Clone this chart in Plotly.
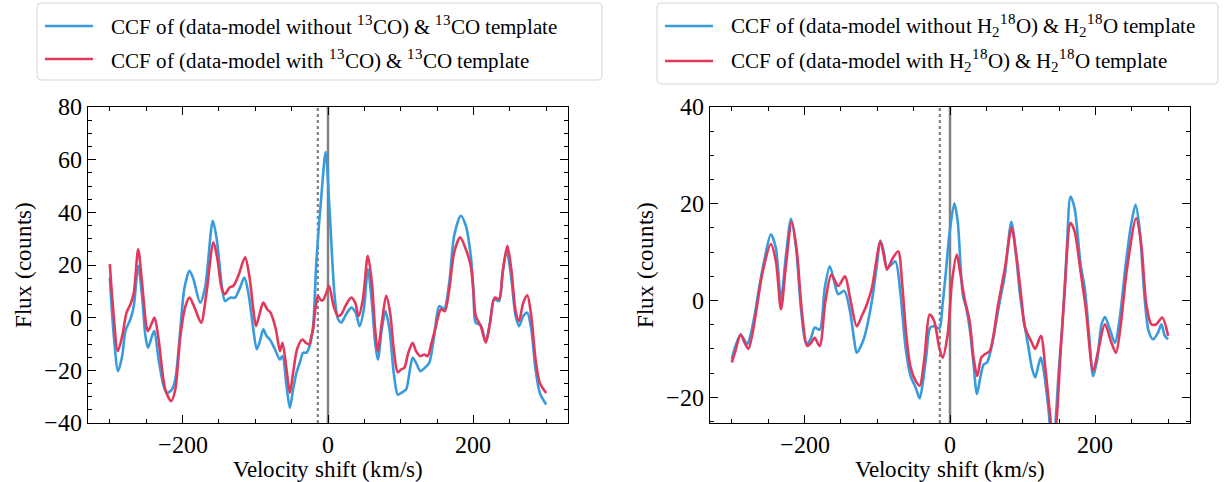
import plotly.graph_objects as go

# ---------------- Left panel: 13CO ----------------
v_13co_without = [-300, -294.5, -288.6, -283, -278.5, -271.7, -267, -261, -255.7, -251, -247.5, -242, -238.8,
                  -232.9, -226, -221.5, -214.6, -210, -203, -197.7, -190.4, -185, -175.8, -169, -158.4, -153,
                  -146, -141.6, -134.7, -127.9, -121, -115, -109.6, -102.7, -98, -93.6, -89, -84.5, -79.9, -73,
                  -66, -62.6, -57, -52.5, -48, -43.4, -38.8, -34.2, -29.7, -25, -20.5, -16, -9.1, -3.2, 2.3,
                  9.1, 13.7, 18.3, 25, 32, 38, 43.4, 49.3, 54.8, 60.3, 64.8, 68.5, 74, 79, 84.5, 90.4, 95.9,
                  100.5, 107.3, 111.9, 116.4, 121, 126.9, 133.3, 139.3, 146, 153, 159.8, 166.7, 173.5, 182.6,
                  189.5, 196.3, 200, 203.2, 210, 216.9, 222.8, 228.3, 235.2, 239.7, 245.7, 251.1, 258, 262.6,
                  268.5, 274, 279.5, 285.4, 291.3, 300]
f_13co_without = [15.2, -7, -20.3, -14.6, -5, -0.6, 4.4, 19.7, 8.3, -7, -11.4, -7, -5.1,
                  -15.9, -26, -28.6, -27.3, -23.5, -4.4, 10.8, 17.8, 14.6, 5.7, 11.4, 36.8, 29.8,
                  12, 6.3, 7.6, 7.6, 11.4, 15.2, 9.5, -4.4, -12, -8.9, -4.4, -7, -8.3, -12,
                  -15.9, -14.6, -26, -34.3, -27.3, -21, -17.1, -13.3, -13.3, -10.5, -3.2, 21, 46.3, 62.9, 40,
                  8.3, -0.5, -1.8, 1.3, 3.8, 1.9, -3.2, 3.2, 18.4, 5.7, -9.5, -15.9, -4.4, 2.5, -4.4, -21, -29.2,
                  -28.6, -27.3, -21, -15.2, -17.1, -20.3, -19, -17.1, -7, 4.4, 3.4, 13.3, 31.1, 38.7,
                  34.9, 23.5, 10.8, -1.9, -2.9, -8.9, -1.9, 7, 6.3, 15.9, 25.4, 17.1, 0.6, -3.2,
                  0.6, 1.9, -4.4, -19.7, -28.6, -33]

v_13co_with = [-300, -295.4, -289, -283, -277, -271.7, -267, -261, -255.7, -249.8, -247.5, -242, -238.4,
               -232.9, -223.7, -215.5, -210, -203, -196, -190.4, -182.6, -174.4, -167.6, -157.5, -152, -146,
               -141.6, -135.6, -130, -123.3, -114, -108.2, -102.7, -99, -93.6, -89, -83.6, -79, -71.7, -66,
               -62.6, -57, -52.5, -48, -42.5, -35.3, -30.6, -26, -22.8, -20.5, -17.4, -13.7, -10, -6.8, -2.3,
               1.5, 7.8, 13.7, 18.3, 25, 32, 37.4, 42, 48, 54.8, 60.3, 64.8, 68.5, 74, 80, 85.4, 90.4, 95.9,
               100.5, 105, 110.5, 116.4, 121, 126.9, 132.4, 137, 142.5, 148.4, 155.3, 160.7, 166.7, 173.5,
               181.7, 189.5, 196.3, 200, 203.2, 210, 216.9, 222.8, 229.2, 235.2, 240.6, 246.6, 252, 258,
               262.6, 268.5, 274, 279.5, 285.4, 291.3, 300]
f_13co_with = [20.3, 3.2, -12.7, -7, 1.9, 5, 9.5, 26, 13.3, -3.2, -5.1, -1.9, 0,
               -8.3, -27.3, -31.7, -27.3, -7, 4.4, 7.6, 3.2, -1.9, 8.3, 28.6, 22.2, 10.8,
               8.9, 11.4, 12.1, 15.9, 22.9, 15.9, 3.2, -3.2, 1.9, 5.7, 3.2, 1.9, -4.4, -12.7,
               -9.5, -19.7, -28.6, -21, -12, -8.3, -9.5, -10.2, -7, -4.4, 3.2, 8.3, 6.7, 6.7, 9.5,
               12, 4.4, 0.6, 1.3, 5, 7.6, 5.7, 0.6, 7, 23.5, 13.3, -4.4, -12.7, -1.9, 8.3, 1.9, -12, -20.7,
               -19.7, -19, -13.3, -9.5, -12.7, -14.6, -14, -14.6, -9.5, -3.2, 3.2, 2.5, 10.8, 24.8,
               30.5, 26, 19.7, 9.5, 0.6, -3.2, -9.5, -1.9, 7.6, 7, 18.4, 27.3, 18.4, 2.5,
               -1.3, 5.7, 8.5, 0.6, -15.9, -24.8, -28.6]

# ---------------- Right panel: H2 18O ----------------
v_h218o_without = [-300, -295, -288, -283.3, -278.7, -274, -268.5, -262.5, -255.6, -246.3, -239.4, -232.4,
                   -225.5, -218.5, -211.6, -204.6, -197.7, -191.7, -186.1, -179.2, -172.2, -165.3, -159.3,
                   -153.7, -145.4, -137.5, -131.5, -128.2, -121.3, -116.7, -107.4, -100.5, -95.8, -91.2,
                   -86.6, -81, -75, -68, -61.1, -54.2, -47.2, -41.7, -37, -32.4, -27.3, -21.8, -14.7, -10.2,
                   -5.6, -0.9, 6, 10.6, 17.6, 22.2, 26.9, 32.4, 37, 41.7, 46.3, 50.9, 57, 68.5, 75.5, 84.3,
                   90.7, 96.3, 100.9, 107.9, 112.5, 117.1, 121.8, 125, 129.6, 135.6, 140.3, 144, 149.5,
                   154.2, 160.2, 165.7, 171.3, 179.6, 185.2, 191.2, 196.8, 202.8, 208.3, 213, 219.9, 226.9,
                   232.9, 242.1, 249.1, 255.1, 260.6, 267.6, 273.1, 279.2, 286.1, 290.7, 295.4, 300]
f_h218o_without = [-12.1, -9.4, -7, -8, -9, -7, -2.9, 2.6, 8.1, 13.7, 10.8, 0.2,
                   9.5, 16.9, 10.8, -2.2, -9, -8, -5.6, -6, 2.6, 7.1, 4,
                   1.3, 2, -2.2, -8.4, -10.8, -9, -7, -0.1, 7.4, 12.4, 10.2,
                   6.7, 7.4, 8.1, 1.3, -9.7, -15.6, -18, -20.2, -16.6, -11.1, -5.6, -5.3, -5.8, -0.8,
                   6, 13.6, 20.1, 16.3, 1.2, -1.5, -5.6, -13.2, -19.3, -15.9, -13.2, -12.8, -9.7, -0.1, 5.4, 16.3,
                   9.5, 1.2, -3.6, -9.7, -13.8, -15.9, -13.2, -11.8, -15.2, -22.8, -30, -27, -14.5,
                   -5.6, 9.5, 21.5, 19.1, 7.4, 2.6, -7, -15.6, -11.8, -5, -3.4, -6, -8.7,
                   -4.2, 8.1, 15.7, 19.8, 15, 0.5, -6.3, -8, -6.6, -4.9, -7.3, -8]

v_h218o_with = [-300, -295, -288, -282.4, -277.3, -271.8, -265.7, -257.9, -246.3, -239.4, -232.4, -225.5,
                -217.6, -210.6, -203.7, -196.3, -190.7, -186.1, -179.2, -171.3, -163, -153.7, -144.4, -137.5,
                -128.2, -121.3, -114.4, -107.4, -95.8, -91.2, -86.6, -79.6, -71.3, -65.7, -60.2, -54.2,
                -47.2, -41.7, -35.6, -27.8, -21.8, -14.8, -10.2, -3.2, 2.8, 9.3, 13, 19.9, 26.9, 32.4, 37.5,
                43, 47.7, 54.6, 66.2, 75.5, 84.7, 91.7, 98.6, 103.2, 112.5, 117.1, 125, 131, 137, 142.6,
                147.2, 151.9, 157.4, 165.7, 171.3, 179.6, 186.6, 196.8, 203.7, 213, 221.3, 228.2, 234.3,
                243.5, 256, 263, 270, 276.9, 283.8, 291.7, 300]
f_h218o_with = [-12.8, -10.4, -7, -8.7, -10, -7, -1.5, 5.7, 11.7, 8.1, -1.8, 7.4,
                16.3, 10.2, -2.2, -9.4, -8.7, -7.7, -9.4, -0.1, 5.4, 3, 5, 0.6,
                -5.3, -3.2, -0.8, 2.6, 12.2, 9.5, 6.4, 8.5, 10.2, 3.3, -7, -13.8,
                -16.6, -17.6, -12.5, -2.9, -4.2, -9.7, -11.8, -7, 4, 9.5, 6.7, 0.5, -4.2, -11.8, -15.6,
                -11.8, -11.1, -10.4, -0.8, 6.7, 15, 8.8, -0.1, -5.6, -8.7, -10, -7.3, -13.8, -22.8, -30,
                -23.4, -11.1, 1.2, 16, 14.3, 6, -1.5, -14.5, -10.4, -4.9, -8.4, -10.8, -5.6,
                6.7, 17, 11.5, -0.8, -4.9, -4.9, -3.5, -7.3]

# reference velocities
v_rest = 0
v_sys = -14

# legend labels
leg_13co_wo = "CCF of (data-model without <sup>13</sup>CO) & <sup>13</sup>CO template"
leg_13co_w = "CCF of (data-model with <sup>13</sup>CO) & <sup>13</sup>CO template"
leg_h2o_wo = "CCF of (data-model without H<sub>2</sub><sup>18</sup>O) & H<sub>2</sub><sup>18</sup>O template"
leg_h2o_w = "CCF of (data-model with H<sub>2</sub><sup>18</sup>O) & H<sub>2</sub><sup>18</sup>O template"

BLUE = "#379bdc"
RED = "#e2385c"
GREY = "#808080"
FONT = "Liberation Serif"
TICK_SIZE = 24
TITLE_SIZE = 23
LEG_SIZE = 21

W, H = 1229, 482
ML, MR, MT, MB = 88, 39, 107, 59
PW, PH = W - ML - MR, H - MT - MB


def px(xpix):
    return (xpix - ML) / PW


def py(ypix):
    return (H - MB - ypix) / PH


fig = go.Figure()


def add_panel(xref, yref, vb, fb, vr, fr, nb, nr):
    fig.add_trace(go.Scatter(x=vb, y=fb, mode="lines", name=nb, xaxis=xref, yaxis=yref, showlegend=False,
                             hoverinfo="skip",
                             line=dict(color=BLUE, width=2.6, shape="spline", smoothing=0.8)))
    fig.add_trace(go.Scatter(x=vr, y=fr, mode="lines", name=nr, xaxis=xref, yaxis=yref, showlegend=False,
                             hoverinfo="skip",
                             line=dict(color=RED, width=2.6, shape="spline", smoothing=0.8)))


add_panel("x", "y", v_13co_without, f_13co_without, v_13co_with, f_13co_with, leg_13co_wo, leg_13co_w)
add_panel("x2", "y2", v_h218o_without, f_h218o_without, v_h218o_with, f_h218o_with, leg_h2o_wo, leg_h2o_w)

for xr, yr in (("x", "y"), ("x2", "y2")):
    fig.add_shape(type="line", xref=xr, yref=yr + " domain", x0=v_rest, x1=v_rest, y0=0, y1=1,
                  line=dict(color=GREY, width=2.5), layer="below")
    fig.add_shape(type="line", xref=xr, yref=yr + " domain", x0=v_sys, x1=v_sys, y0=0, y1=1,
                  line=dict(color=GREY, width=2.2, dash="dot"), layer="below")


def rounded_box(x0, y0, x1, y1, r=4):
    X0, X1 = px(x0), px(x1)
    Y0, Y1 = py(y0), py(y1)
    rx, ry = r / PW, r / PH
    return (f"M{X0 + rx},{Y0} L{X1 - rx},{Y0} Q{X1},{Y0} {X1},{Y0 - ry} "
            f"L{X1},{Y1 + ry} Q{X1},{Y1} {X1 - rx},{Y1} "
            f"L{X0 + rx},{Y1} Q{X0},{Y1} {X0},{Y1 + ry} "
            f"L{X0},{Y0 - ry} Q{X0},{Y0} {X0 + rx},{Y0} Z")


annotations = []


def add_legend(box, rows):
    x0, y0, x1, y1 = box
    fig.add_shape(type="path", xref="paper", yref="paper", path=rounded_box(x0, y0, x1, y1),
                  line=dict(color="#d5d5d5", width=1), fillcolor="white")
    for (lx0, lx1, ly, tx, color, label) in rows:
        fig.add_shape(type="line", xref="paper", yref="paper", x0=px(lx0), x1=px(lx1), y0=py(ly), y1=py(ly),
                      line=dict(color=color, width=2.6))
        annotations.append(dict(text=label, xref="paper", yref="paper", x=px(tx), y=py(ly),
                                xanchor="left", yanchor="middle", align="left", showarrow=False,
                                font=dict(family=FONT, size=LEG_SIZE, color="black")))


add_legend((37, 3, 602, 80), [(45, 93, 26, 109, BLUE, leg_13co_wo),
                              (45, 93, 59, 109, RED, leg_13co_w)])
add_legend((657, 3, 1218, 84), [(665, 713, 26, 729, BLUE, leg_h2o_wo),
                                (665, 713, 61, 729, RED, leg_h2o_w)])


def xaxis(dom, anchor):
    return dict(domain=dom, anchor=anchor, range=[-330, 330], tickmode="linear", tick0=0, dtick=200,
                ticks="inside", ticklen=8, tickcolor="black", mirror="allticks",
                showline=True, linecolor="black", linewidth=1, showgrid=False, zeroline=False,
                automargin=False,
                minor=dict(dtick=50, ticks="inside", ticklen=4, tickcolor="black"),
                tickfont=dict(family=FONT, size=TICK_SIZE, color="black"),
                title=dict(text="Velocity shift (km/s)", font=dict(family=FONT, size=TITLE_SIZE, color="black"),
                           standoff=0))


def yaxis(rng, anchor):
    return dict(domain=[0, 1], anchor=anchor, range=rng, tickmode="linear", tick0=0, dtick=20,
                ticks="inside", ticklen=8, tickcolor="black", mirror="allticks",
                showline=True, linecolor="black", linewidth=1, showgrid=False, zeroline=False,
                automargin=False,
                minor=dict(dtick=5, ticks="inside", ticklen=4, tickcolor="black"),
                tickfont=dict(family=FONT, size=TICK_SIZE, color="black"),
                title=dict(text="Flux (counts)", font=dict(family=FONT, size=TITLE_SIZE, color="black"),
                           standoff=6))


fig.update_layout(
    width=W, height=H,
    margin=dict(l=ML, r=MR, t=MT, b=MB, autoexpand=False),
    paper_bgcolor="white", plot_bgcolor="white",
    font=dict(family=FONT, size=TITLE_SIZE, color="black"),
    showlegend=False,
    hovermode=False,
    xaxis=xaxis([0, px(568)], "y"),
    yaxis=yaxis([-40, 80], "x"),
    xaxis2=xaxis([px(710), 1], "y2"),
    yaxis2=yaxis([-25.3, 40], "x2"),
    annotations=annotations,
)

# page styling: no body margin; serif font resolved through a local() face and kept at the chosen sizes
css = (
    "@font-face{font-family:'CCFSerif';src:local('Liberation Serif'),local('LiberationSerif'),"
    "local('Times New Roman'),local('Tinos'),local('DejaVu Serif');}"
    ".js-plotly-plot svg text{font-family:'CCFSerif','Liberation Serif','Times New Roman',serif !important;}"
    ".js-plotly-plot g.xtick text,.js-plotly-plot g.ytick text,.js-plotly-plot g.x2tick text,"
    ".js-plotly-plot g.y2tick text{font-size:%dpx !important;}"
    ".js-plotly-plot text.xtitle,.js-plotly-plot text.ytitle,.js-plotly-plot text.x2title,"
    ".js-plotly-plot text.y2title{font-size:%dpx !important;}"
    ".js-plotly-plot text.annotation-text{font-size:%dpx !important;}"
) % (TICK_SIZE, TITLE_SIZE, LEG_SIZE)

post_js = (
    "document.body.style.margin='0';"
    "var st=document.createElement('style');"
    "st.textContent=\"" + css + "\";"
    "document.head.appendChild(st);"
)

fig.write_html("out.html", post_script=post_js, config={"displayModeBar": False})
